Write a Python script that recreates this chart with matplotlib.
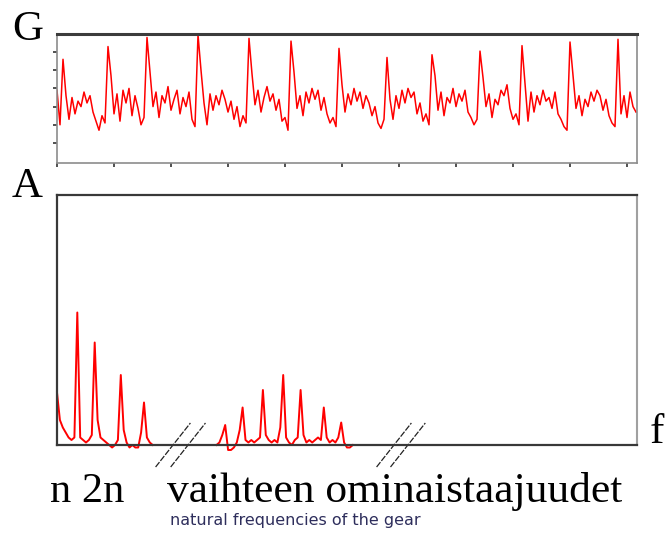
import matplotlib.pyplot as plt
import numpy as np

W, H = 669, 533

# gear signal G (one value every 3 px, spikes once per tooth mesh)
signal = [
    2.9, 1.0, 4.6,
    2.6, 1.3, 2.5, 1.6, 2.3, 2.0, 2.8, 2.2, 2.6, 1.7, 1.2, 0.7, 1.5, 1.1, 5.3,
    3.7, 1.6, 2.7, 1.2, 2.9, 2.2, 3.0, 1.5, 2.6, 1.9, 1.0, 1.4, 5.8,
    3.9, 2.0, 2.8, 1.4, 2.6, 2.2, 3.1, 1.8, 2.4, 2.9, 1.6, 2.5, 2.0, 2.8, 1.3, 0.9, 5.95,
    4.0, 2.2, 1.0, 2.7, 1.8, 2.6, 2.1, 2.9, 2.4, 1.7, 2.3, 1.3, 2.0, 0.9, 1.5, 1.1, 5.75,
    3.8, 2.1, 2.9, 1.7, 2.5, 3.1, 2.3, 2.7, 1.8, 2.4, 1.2, 1.4, 0.7, 5.6,
    3.9, 1.9, 2.6, 1.5, 2.8, 2.2, 3.0, 2.4, 2.9, 1.8, 2.5, 1.6, 1.1, 1.4, 0.9, 5.2,
    3.2, 1.7, 2.7, 2.1, 3.0, 2.3, 2.8, 1.9, 2.6, 2.2, 1.5, 2.0, 1.1, 0.8, 1.3, 4.7,
    2.4, 1.3, 2.6, 1.9, 2.9, 2.2, 3.0, 2.5, 2.8, 1.6, 2.2, 1.2, 1.6, 1.0, 4.85,
    3.7, 1.8, 2.8, 1.5, 2.5, 2.2, 3.0, 2.0, 2.7, 2.3, 2.9, 1.7, 1.4, 1.0, 1.3, 5.05,
    3.6, 2.0, 2.7, 1.4, 2.4, 2.1, 2.9, 2.6, 3.2, 1.9, 1.3, 1.6, 1.0, 5.35,
    3.3, 1.2, 2.8, 1.7, 2.6, 2.1, 2.9, 2.3, 2.5, 1.9, 2.8, 1.6, 1.3, 0.9, 0.7, 5.55,
    3.7, 1.9, 2.6, 1.5, 2.4, 2.0, 2.8, 2.3, 2.9, 2.6, 1.8, 2.4, 1.5, 1.1, 0.9, 5.7,
    1.6, 2.6, 1.4, 2.8, 2.0, 1.7,
]

# spectrum A, low band (n, 2n, ...) and gear natural frequencies band
f_low_start, f_high_start, f_step = 0.0, 27.5, 0.5
amp_low = [
    0.21, 0.10, 0.07, 0.05, 0.03, 0.02, 0.03, 0.53, 0.03, 0.02,
    0.01, 0.02, 0.04, 0.41, 0.10, 0.03, 0.02, 0.01, 0.00, -0.01,
    0.00, 0.02, 0.28, 0.06, 0.01, -0.01, 0.00, -0.01, -0.01, 0.05,
    0.17, 0.03, 0.01, 0.00,
]
amp_high = [
    0.00, 0.01, 0.04, 0.08, -0.02, -0.02, -0.01, 0.01, 0.06, 0.15,
    0.02, 0.01, 0.02, 0.01, 0.02, 0.03, 0.22, 0.04, 0.02, 0.01,
    0.02, 0.01, 0.07, 0.28, 0.03, 0.01, 0.00, 0.02, 0.03, 0.22,
    0.04, 0.01, 0.02, 0.01, 0.02, 0.03, 0.02, 0.15, 0.03, 0.01,
    0.02, 0.01, 0.03, 0.09, 0.01, -0.01, -0.01, 0.00,
]
# axis breaks (frequency where the // crosses the axis)
breaks = [20.0, 22.6, 58.1, 60.5]

fig = plt.figure(figsize=(W / 100, H / 100), dpi=100)

def box(x0, y0, x1, y1):
    return [x0 / W, 1 - y1 / H, (x1 - x0) / W, (y1 - y0) / H]

# top: time signal
ax1 = fig.add_axes(box(57, 34, 637, 163))
ax1.plot(np.arange(len(signal)), signal, color='#ff0000', lw=1.1)
ax1.set_xlim(0, 580 / 3)
ax1.set_ylim(-1.1, 5.99)
ax1.set_xticks(np.arange(0, 194, 19))
ax1.set_yticks(range(6))
ax1.set_xticklabels([])
ax1.set_yticklabels([])
ax1.tick_params(direction='out', length=3, width=1.2, color='#333333')
for s in ['left', 'bottom', 'right']:
    ax1.spines[s].set_color('#8c8c8c')
    ax1.spines[s].set_linewidth(1.2)
ax1.spines['top'].set_color('#3c3c3c')
ax1.spines['top'].set_linewidth(2.2)

# bottom: spectrum
ax2 = fig.add_axes(box(57, 195, 637, 445))
f_low = f_low_start + f_step * np.arange(len(amp_low))
f_high = f_high_start + f_step * np.arange(len(amp_high))
ax2.plot(f_low, amp_low, color='#ff0000', lw=1.4, clip_on=False)
ax2.plot(f_high, amp_high, color='#ff0000', lw=1.4, clip_on=False)
ax2.set_xlim(0, 100)
ax2.set_ylim(0, 1)
ax2.set_xticks([])
ax2.set_yticks([])
for s in ['left', 'top', 'bottom']:
    ax2.spines[s].set_color('#383838')
    ax2.spines[s].set_linewidth(1.6)
ax2.spines['right'].set_color('#a0a0a0')
ax2.spines['right'].set_linewidth(1.5)

for b in breaks:
    ax2.plot([b - 3.0, b + 3.0], [-0.088, 0.088], color='#222222', lw=0.9,
             linestyle=(0, (5, 1.2)), clip_on=False)

serif = 'Liberation Serif'
def label(x, y, s, size, **kw):
    fig.text(x / W, 1 - y / H, s, fontsize=size, family=serif, va='baseline', **kw)

label(12, 40, 'G', 31)
label(12, 197, 'A', 31)
label(650, 443, 'f', 31)
label(50, 502, 'n 2n', 30.5)
label(167, 502, 'vaihteen ominaistaajuudet', 31.3)
fig.text(170 / W, 1 - 525 / H, 'natural frequencies of the gear', fontsize=11.5,
         family='DejaVu Sans', color='#2e2e5c', va='baseline')

fig.savefig('out.png', dpi=100)
